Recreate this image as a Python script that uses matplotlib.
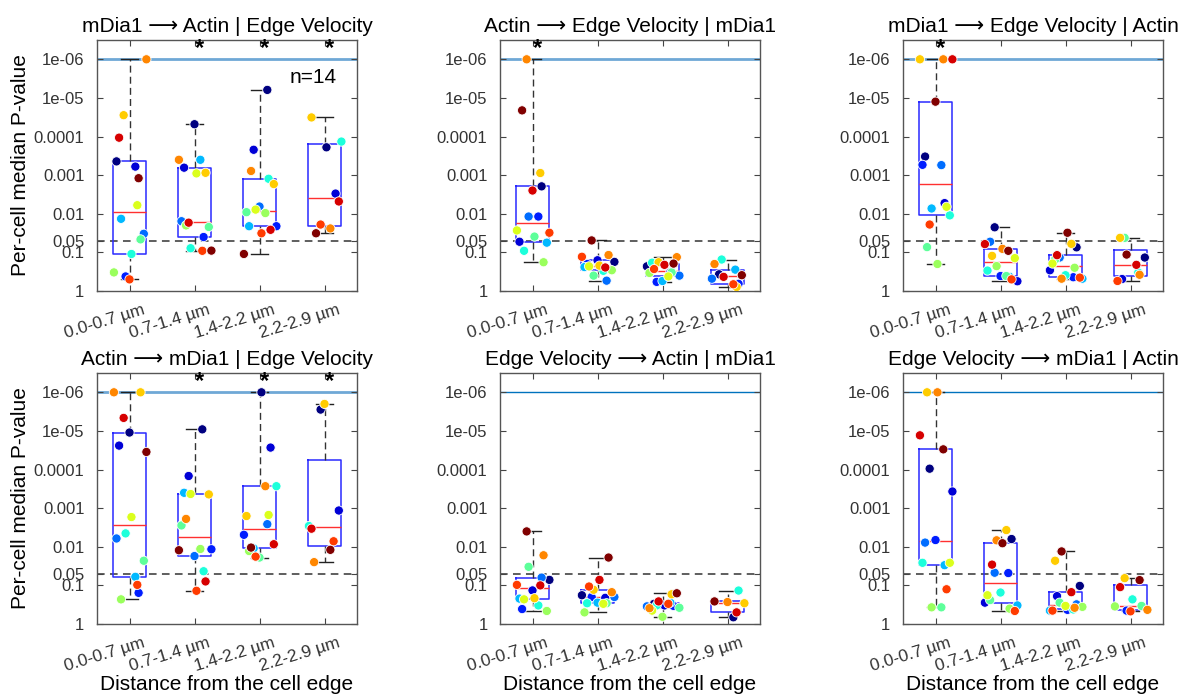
import numpy as np
import matplotlib
matplotlib.use('Agg')
import matplotlib.pyplot as plt
import matplotlib.transforms as mtransforms

plt.rcParams['font.family'] = ['Liberation Sans', 'DejaVu Sans']

nan = np.nan

bins = ['0.0-0.7 µm', '0.7-1.4 µm', '1.4-2.2 µm', '2.2-2.9 µm']
ytick_vals = [1e-6, 1e-5, 1e-4, 1e-3, 1e-2, 0.05, 0.1, 1]
ytick_labels = ['1e-06', '1e-05', '0.0001', '0.001', '0.01', '0.05', '0.1', '1']

# per-cell median p-values, 4 distance bins x 14 cells (cell order = colour order)
mdia1_to_actin = [
    [4.4e-4, 6e-4, 0.42, 0.033, 0.0135, 0.11, 0.046, 0.33, 6e-3, 2.8e-5, 1e-6, 0.5, 1.07e-4, 1.2e-3],
    [4.8e-5, 6.4e-4, 0.04, 0.0156, 4e-4, 0.078, 0.022, 0.02, 9e-4, 8.7e-4, 4e-4, 0.091, 0.017, 0.09],
    [6.2e-6, 2.2e-4, 0.021, 6.5e-3, 0.021, 1.24e-3, 9.1e-3, 9.6e-3, 7.8e-3, 1.7e-3, 7.8e-4, 0.032, 0.026, 0.11],
    [1.9e-4, 3e-3, nan, nan, nan, 1.35e-4, nan, nan, nan, 3.2e-5, 0.024, 0.019, 4.8e-3, 0.032],
]
actin_to_edge = [
    [1.95e-3, 0.053, 0.0118, 0.0118, 0.056, 0.091, 0.039, 0.18, 0.027, 8.8e-4, 1e-6, 0.031, 2.5e-3, 2.1e-5],
    [0.176, 0.16, 0.2, 0.54, 0.24, 0.3, 0.40, 0.29, 0.23, 0.22, 0.117, 0.13, 0.246, 0.049],
    [0.23, 0.33, 0.58, 0.4, 0.55, 0.185, 0.33, 0.34, 0.42, 0.18, 0.133, 0.27, 0.21, 0.195],
    [0.37, nan, 0.65, 0.48, 0.28, 0.153, nan, nan, nan, 0.79, 0.2, 0.67, 0.43, 0.39],
]
mdia1_to_edge = [
    [3.3e-4, 5.3e-3, 5.4e-4, 5.5e-4, 7.3e-3, 0.011, 0.073, 0.2, 6.6e-3, 1e-6, 1e-6, 0.019, 1e-6, 1.25e-5],
    [0.0224, 0.56, 0.41, 0.053, 0.43, 0.296, 0.41, 0.227, 0.141, 0.123, 0.081, 0.5, 0.061, 0.091],
    [0.074, 0.29, 0.44, 0.136, 0.48, 0.39, 0.153, 0.25, 0.195, 0.06, 0.48, 0.45, 0.118, 0.031],
    [0.136, 0.49, nan, nan, nan, 0.33, 0.042, nan, nan, 0.042, 0.38, 0.55, 0.21, 0.114],
]
actin_to_mdia1 = [
    [1.1e-5, 2.4e-5, 0.156, 6.1e-3, 0.06, 4.5e-3, 0.023, 0.23, 1.7e-3, 1e-6, 1e-6, 0.097, 4.6e-6, 3.5e-5],
    [9.1e-6, 1.47e-4, 0.0116, 0.0174, 4e-4, 0.043, 2.8e-3, 0.0114, 4.3e-4, 4.4e-4, 1.9e-3, 0.138, 0.079, 0.0123],
    [1e-6, 2.7e-5, 4.9e-3, 2.6e-3, 0.011, 2.7e-4, 0.019, 0.0129, 1.5e-3, 1.6e-3, 2.7e-4, 0.018, 8.6e-3, 0.0105],
    [2.8e-6, 1.15e-3, nan, nan, nan, 2.9e-3, nan, nan, nan, 2e-6, 0.025, 7.2e-3, 3.4e-3, 0.012],
]
edge_to_actin = [
    [0.072, 0.135, 0.41, 0.063, 0.22, 0.33, 0.033, 0.46, 0.23, 0.215, 0.0166, 0.097, 0.10, 4e-3],
    [0.18, 0.21, 0.2, 0.2, 0.28, 0.29, 0.29, 0.5, 0.3, 0.13, 0.15, 0.107, 0.072, 0.019],
    [0.3, 0.33, 0.34, 0.35, 0.28, 0.33, 0.38, 0.65, 0.45, 0.17, 0.39, 0.3, 0.26, 0.16],
    [0.67, nan, nan, nan, nan, 0.136, nan, nan, nan, 0.29, 0.27, nan, 0.5, 0.26],
]
edge_to_mdia1 = [
    [9.5e-5, 3.7e-4, 6.7e-3, 7.8e-3, 0.03, 0.026, 0.37, 0.37, 0.026, 1e-6, 1e-6, 0.126, 1.3e-5, 3e-5],
    [6.3e-3, 0.28, 0.048, 0.047, 0.33, 0.153, 0.24, 0.40, 0.18, 3.7e-3, 6.8e-3, 0.46, 0.029, 8.1e-3],
    [0.103, 0.19, 0.43, 0.31, 0.45, 0.42, 0.28, 0.36, 0.34, 0.023, 0.38, 0.45, 0.15, 0.0132],
    [nan, nan, 0.45, nan, nan, 0.23, 0.34, 0.35, nan, 0.065, 0.43, 0.47, 0.111, 0.073],
]

panels = [
    ('mDia1 ⟶ Actin | Edge Velocity', mdia1_to_actin, [2, 3, 4]),
    ('Actin ⟶ Edge Velocity | mDia1', actin_to_edge, [1]),
    ('mDia1 ⟶ Edge Velocity | Actin', mdia1_to_edge, [1]),
    ('Actin ⟶ mDia1 | Edge Velocity', actin_to_mdia1, [2, 3, 4]),
    ('Edge Velocity ⟶ Actin | mDia1', edge_to_actin, []),
    ('Edge Velocity ⟶ mDia1 | Actin', edge_to_mdia1, []),
]

cell_colors = plt.cm.jet(np.linspace(0, 1, 14))
jitter = np.array([-0.2, 0.09, -0.06, 0.22, -0.13, 0.03, 0.17, -0.24,
                   0.12, -0.09, 0.26, 0.0, -0.16, 0.14])

W, H = 1179, 698
fig = plt.figure(figsize=(W / 100, H / 100), dpi=100)
lefts = [97, 500, 903]
tops = [40, 373]
aw, ah = 260, 251

TXT = '#333333'
# tick labels end a little to the right of the tick, like the original
label_shift = mtransforms.ScaledTranslation(0.13, -0.11, fig.dpi_scale_trans)

for k, (title, data, sig) in enumerate(panels):
    r, c = divmod(k, 3)
    ax = fig.add_axes([lefts[c] / W, 1 - (tops[r] + ah) / H, aw / W, ah / H])
    ax.set_yscale('log')

    # reference lines
    thin = k in (4, 5)
    ax.axhline(1e-6, color='#0072BD' if thin else '#6FA8D6',
               lw=1.0 if thin else 2.0, zorder=1)
    ax.axhline(0.05, color='#333333', lw=1.1, ls=(0, (5, 3.5)), zorder=1)

    # box stats computed on log10 values (MATLAB-style percentiles)
    stats = []
    for g, vals in enumerate(data):
        v = np.array(vals, dtype=float)
        v = v[~np.isnan(v)]
        q1, med, q3 = np.percentile(np.log10(v), [25, 50, 75], method='hazen')
        stats.append(dict(med=10 ** med, q1=10 ** q1, q3=10 ** q3,
                          whislo=v.min(), whishi=v.max(), fliers=[]))
    ax.bxp(stats, positions=[1, 2, 3, 4], widths=0.5, capwidths=0.25,
           showfliers=False, manage_ticks=False,
           boxprops=dict(color='#2a2aff', lw=1.1),
           medianprops=dict(color='#ff3030', lw=1.0),
           whiskerprops=dict(color='#333333', lw=1.0, ls=(0, (5, 3))),
           capprops=dict(color='#222222', lw=1.0))

    for g, vals in enumerate(data):
        v = np.array(vals, dtype=float)
        xs = (g + 1) + np.roll(jitter, 3 * g + k)
        ok = ~np.isnan(v)
        ax.scatter(xs[ok], v[ok], s=44, c=cell_colors[ok],
                   edgecolors='white', linewidths=0.6, zorder=4)

    for g in sig:
        ax.text(g + 0.08, 10 ** -6.27, '*', ha='center', va='center',
                fontsize=17, fontweight='bold', color='black')

    ax.set_xlim(0.5, 4.5)
    ax.set_ylim(1, 10 ** -6.5)
    ax.set_yticks(ytick_vals)
    ax.set_yticklabels(ytick_labels)
    ax.minorticks_off()
    ax.set_xticks([1, 2, 3, 4])
    ax.set_xticklabels([])
    xtrans = ax.get_xaxis_transform() + label_shift
    for i, lab in enumerate(bins):
        ax.text(i + 1, 0, lab, transform=xtrans, rotation=17,
                rotation_mode='anchor', ha='right', va='top',
                fontsize=12.5, color=TXT)
    ax.tick_params(axis='both', direction='in', length=4, top=True,
                   right=True, color='#444444', labelcolor=TXT, labelsize=12)
    ax.tick_params(axis='y', pad=9)
    for s in ax.spines.values():
        s.set_color('#555555')
        s.set_linewidth(1.0)

    ax.set_title(title, fontsize=15, pad=6, color='black')
    if c == 0:
        ax.set_ylabel('Per-cell median P-value', fontsize=15, labelpad=3,
                      color='black')
    if r == 1:
        ax.set_xlabel('Distance from the cell edge', fontsize=15,
                      color='black', va='top')
        ax.xaxis.set_label_coords(0.5, -0.205)
    if k == 0:
        ax.text(0.83, 0.85, 'n=14', transform=ax.transAxes, ha='center',
                va='center', fontsize=15, color='black')

fig.savefig('out.png', dpi=100, facecolor='white')
